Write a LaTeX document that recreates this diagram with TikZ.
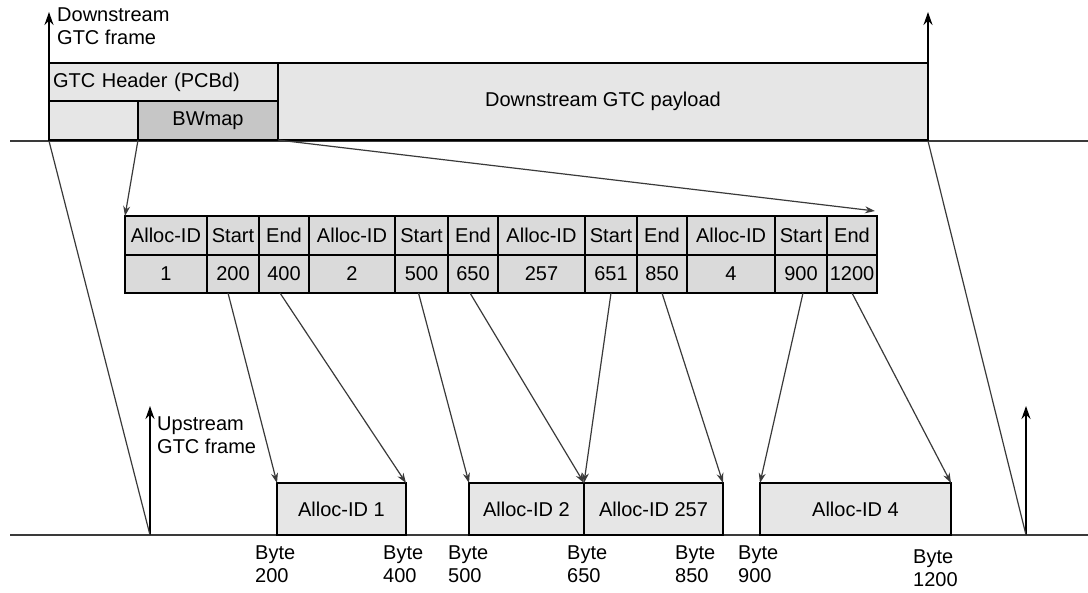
\documentclass[tikz,border=0pt]{standalone}
\usepackage{fontspec}
\setmainfont{Liberation Sans}
\usetikzlibrary{arrows.meta}
\definecolor{framegray}{HTML}{E6E6E6}
\definecolor{bwgray}{HTML}{C6C6C6}
\definecolor{cellgray}{HTML}{DADADA}
\definecolor{linegray}{HTML}{3A3A3A}
\begin{document}
\begin{tikzpicture}[x=1pt,y=-1pt,
  txt/.style={font=\fontsize{20}{23}\selectfont},
  frbox/.style={txt,draw=black,line width=1.8pt,fill=framegray,inner sep=0pt,outer sep=0pt,anchor=north west},
  cellbox/.style={txt,draw=black,line width=1.1pt,fill=cellgray,inner sep=0pt,outer sep=0pt,anchor=north west,minimum height=39},
  group/.style={draw=black,line width=2.2pt},
  conn/.style={draw=linegray,line width=1.2pt,-{Stealth[length=10pt,width=7pt]}},
  slant/.style={draw=linegray,line width=1.2pt},
  uparr/.style={draw=black,line width=1.8pt,-{Stealth[length=13pt,width=9pt]}},
  axis/.style={draw=linegray,line width=1.1pt},
  lbl/.style={txt,align=left,anchor=north west,inner sep=0pt}]
\useasboundingbox (0,0) rectangle (1088,593);

% axis lines
\coordinate (ta) at (10,141);
\coordinate (tb) at (1088,141);
\coordinate (ba) at (10,535);
\coordinate (bb) at (1088,535);
\draw[axis] (ta) -- (tb);
\draw[axis] (ba) -- (bb);

% downstream frame
\node[frbox,minimum width=229,minimum height=38,anchor=north west,align=left,text width=225] (hdr) at (49,63) {\hspace*{2pt}GTC Header (PCBd)};
\node[frbox,minimum width=89,minimum height=39] (lft) at (49,101) {};
\node[frbox,fill=bwgray,minimum width=140,minimum height=39] (bw) at (138,101) {BWmap};
\node[frbox,minimum width=650,minimum height=77] (pay) at (278,63) {Downstream GTC payload};

\coordinate (d0) at (49,141);
\coordinate (d0t) at (49,12);
\coordinate (d1) at (928,141);
\coordinate (d1t) at (928,12);
\draw[uparr] (d0) -- (d0t);
\draw[uparr] (d1) -- (d1t);
\node[lbl] (dlab) at (57,8) {Downstream\\GTC frame};

% table
\foreach \xa/\xb/\ta/\tb [count=\i] in {125/207/Alloc-ID/1,207/259/Start/200,259/309/End/400,
  309/395/Alloc-ID/2,395/448/Start/500,448/498/End/650,
  498/585/Alloc-ID/257,585/637/Start/651,637/687/End/850,
  687/775/Alloc-ID/4,775/827/Start/900,827/877/End/1200}{
  \node[cellbox,minimum width={\xb-\xa}] (h\i) at (\xa,216) {\ta};
  \node[cellbox,minimum width={\xb-\xa},minimum height=38] (v\i) at (\xa,255) {\tb};
}
\draw[group] (h1.north west) rectangle (v3.south east);
\draw[group] (h4.north west) rectangle (v6.south east);
\draw[group] (h7.north west) rectangle (v9.south east);
\draw[group] (h10.north west) rectangle (v12.south east);

% BWmap expansion
\draw[conn] (bw.south west) -- (h1.north west);
\draw[conn] (bw.south east) -- ([xshift=-2pt,yshift=5pt]h12.north east);

% upstream frame
\node[frbox,minimum width=129,minimum height=52] (a1) at (277,483) {Alloc-ID 1};
\node[frbox,minimum width=115,minimum height=52] (a2) at (469,483) {Alloc-ID 2};
\node[frbox,minimum width=139,minimum height=52] (a257) at (584,483) {Alloc-ID 257};
\node[frbox,minimum width=191,minimum height=52] (a4) at (760,483) {Alloc-ID 4};

\coordinate (u0) at (150,535);
\coordinate (u0t) at (150,406);
\coordinate (u1) at (1026,535);
\coordinate (u1t) at (1026,406);
\draw[uparr] (u0) -- (u0t);
\draw[uparr] (u1) -- (u1t);
\node[lbl] (ulab) at (157,417) {Upstream\\GTC frame};

\draw[slant] (d0) -- (u0);
\draw[slant] (d1) -- (u1);

% start / end pointers
\draw[conn] ([xshift=-5pt]v2.south) -- (a1.north west);
\draw[conn] ([xshift=-4pt]v3.south) -- (a1.north east);
\draw[conn] ([xshift=-3pt]v5.south) -- (a2.north west);
\draw[conn] ([xshift=-3pt]v6.south) -- (a2.north east);
\draw[conn] (v8.south) -- (a257.north west);
\draw[conn] (v9.south) -- (a257.north east);
\draw[conn] ([xshift=2pt]v11.south) -- (a4.north west);
\draw[conn] (v12.south) -- (a4.north east);

% byte labels
\node[lbl] (b200) at (255,546) {Byte\\200};
\node[lbl] (b400) at (383,546) {Byte\\400};
\node[lbl] (b500) at (448,546) {Byte\\500};
\node[lbl] (b650) at (567,546) {Byte\\650};
\node[lbl] (b850) at (675,546) {Byte\\850};
\node[lbl] (b900) at (738,546) {Byte\\900};
\node[lbl] (b1200) at (913,550) {Byte\\1200};
\end{tikzpicture}
\end{document}
